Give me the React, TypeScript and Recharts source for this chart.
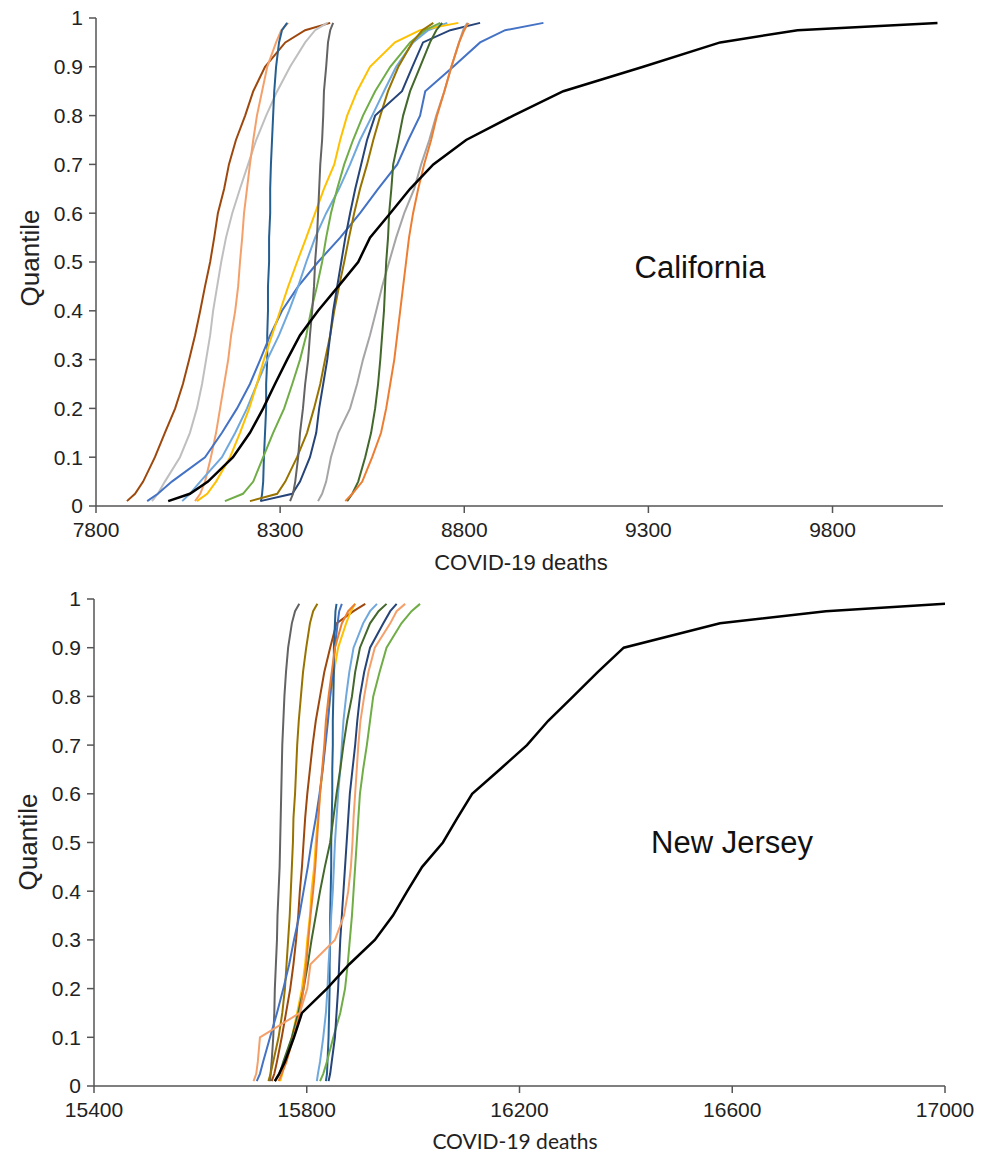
import React from 'react';
import { LineChart, Line, XAxis, YAxis } from 'recharts';

// quantile levels shared by every forecast curve
const QUANTILES = [0.01, 0.025, 0.05, 0.1, 0.15, 0.2, 0.25, 0.3, 0.35, 0.4, 0.45, 0.5,
  0.55, 0.6, 0.65, 0.7, 0.75, 0.8, 0.85, 0.9, 0.95, 0.975, 0.99];

const Y_TICKS = [0, 0.1, 0.2, 0.3, 0.4, 0.5, 0.6, 0.7, 0.8, 0.9, 1];
const CA_X_TICKS = [7800, 8300, 8800, 9300, 9800];
const NJ_X_TICKS = [15400, 15800, 16200, 16600, 17000];

// California - deaths at each quantile level
const CA_BROWN = [7884, 7906, 7928, 7960, 7987, 8015, 8036, 8053, 8069, 8083, 8096, 8110, 8121, 8131, 8148, 8161, 8180, 8205, 8227, 8259, 8314, 8368, 8436];
const CA_LIGHTGRAY = [7952, 7968, 7987, 8028, 8055, 8074, 8088, 8099, 8110, 8118, 8129, 8140, 8153, 8170, 8191, 8213, 8235, 8262, 8292, 8327, 8368, 8395, 8428];
const CA_LIGHTORANGE = [8069, 8083, 8096, 8112, 8126, 8137, 8148, 8159, 8167, 8178, 8186, 8191, 8197, 8202, 8210, 8218, 8227, 8237, 8251, 8265, 8289, 8303, 8322];
const CA_STEELBLUE = [8248, 8251, 8254, 8256, 8259, 8262, 8262, 8265, 8265, 8267, 8267, 8270, 8270, 8273, 8273, 8275, 8278, 8281, 8284, 8289, 8297, 8305, 8319];
const CA_BLUE = [7939, 7968, 8006, 8096, 8142, 8183, 8218, 8246, 8273, 8305, 8349, 8403, 8463, 8517, 8566, 8618, 8648, 8680, 8694, 8770, 8843, 8911, 9015];
const CA_LIGHTBLUE = [8034, 8055, 8083, 8142, 8178, 8210, 8237, 8265, 8297, 8324, 8349, 8371, 8395, 8425, 8460, 8490, 8517, 8550, 8582, 8615, 8661, 8702, 8754];
const CA_GOLD = [8074, 8102, 8126, 8164, 8191, 8216, 8237, 8256, 8278, 8300, 8322, 8346, 8371, 8395, 8419, 8447, 8463, 8482, 8509, 8544, 8612, 8680, 8784];
const CA_GREEN = [8150, 8199, 8227, 8254, 8281, 8311, 8333, 8354, 8371, 8384, 8400, 8414, 8425, 8438, 8455, 8474, 8498, 8525, 8558, 8599, 8653, 8694, 8735];
const CA_OLIVE = [8218, 8292, 8314, 8346, 8373, 8392, 8409, 8422, 8436, 8447, 8460, 8474, 8487, 8501, 8517, 8536, 8553, 8572, 8593, 8621, 8659, 8686, 8716];
const CA_DARKBLUE = [8246, 8333, 8354, 8381, 8398, 8406, 8417, 8428, 8436, 8444, 8455, 8466, 8477, 8490, 8504, 8520, 8536, 8558, 8631, 8659, 8688, 8762, 8843];
const CA_DARKGRAY = [8327, 8335, 8341, 8349, 8354, 8362, 8368, 8376, 8381, 8387, 8392, 8395, 8400, 8403, 8406, 8409, 8414, 8417, 8419, 8425, 8430, 8436, 8444];
const CA_GRAY = [8403, 8414, 8425, 8438, 8458, 8490, 8509, 8525, 8544, 8561, 8577, 8596, 8615, 8637, 8664, 8683, 8705, 8724, 8746, 8765, 8786, 8797, 8808];
const CA_DARKGREEN = [8482, 8496, 8512, 8531, 8547, 8558, 8566, 8572, 8577, 8582, 8585, 8588, 8593, 8596, 8602, 8607, 8621, 8634, 8653, 8680, 8707, 8724, 8740];
const CA_ORANGE = [8477, 8496, 8523, 8550, 8574, 8588, 8599, 8610, 8618, 8626, 8634, 8642, 8650, 8661, 8675, 8691, 8710, 8726, 8746, 8765, 8786, 8800, 8811];
const CA_BLACK = [7996, 8055, 8104, 8172, 8218, 8254, 8286, 8319, 8354, 8403, 8458, 8512, 8544, 8599, 8653, 8716, 8805, 8933, 9069, 9286, 9495, 9705, 10085];

// New Jersey
const NJ_DARKGRAY = [15731, 15732, 15734, 15737, 15739, 15740, 15742, 15744, 15745, 15747, 15749, 15750, 15751, 15752, 15753, 15754, 15756, 15758, 15761, 15765, 15772, 15778, 15786];
const NJ_OLIVE = [15728, 15732, 15737, 15747, 15754, 15759, 15762, 15765, 15768, 15770, 15772, 15774, 15775, 15778, 15780, 15782, 15785, 15789, 15793, 15799, 15806, 15812, 15820];
const NJ_BROWN = [15734, 15739, 15744, 15753, 15761, 15769, 15775, 15780, 15784, 15787, 15791, 15794, 15797, 15801, 15806, 15811, 15817, 15825, 15833, 15844, 15856, 15888, 15910];
const NJ_GOLD = [15750, 15754, 15759, 15772, 15782, 15791, 15797, 15801, 15806, 15809, 15814, 15817, 15821, 15825, 15830, 15834, 15839, 15844, 15851, 15859, 15874, 15883, 15891];
const NJ_BLUE = [15706, 15712, 15718, 15731, 15744, 15756, 15767, 15776, 15786, 15794, 15802, 15809, 15817, 15824, 15830, 15835, 15840, 15844, 15849, 15853, 15858, 15861, 15866];
const NJ_STEELBLUE = [15836, 15838, 15839, 15841, 15842, 15843, 15843, 15844, 15844, 15845, 15846, 15846, 15847, 15848, 15848, 15849, 15849, 15850, 15851, 15851, 15853, 15854, 15856];
const NJ_LIGHTBLUE = [15819, 15821, 15825, 15831, 15836, 15839, 15841, 15844, 15846, 15849, 15851, 15853, 15856, 15859, 15863, 15866, 15869, 15874, 15880, 15888, 15906, 15919, 15932];
const NJ_GREEN = [15825, 15831, 15838, 15850, 15863, 15872, 15877, 15881, 15885, 15888, 15891, 15894, 15897, 15900, 15906, 15913, 15919, 15925, 15937, 15950, 15978, 15997, 16013];
const NJ_DARKBLUE = [15841, 15844, 15847, 15853, 15856, 15859, 15861, 15863, 15866, 15869, 15872, 15875, 15878, 15881, 15886, 15891, 15895, 15900, 15908, 15919, 15944, 15957, 15969];
const NJ_DARKGREEN = [15740, 15749, 15756, 15772, 15784, 15794, 15802, 15809, 15817, 15825, 15834, 15844, 15850, 15856, 15863, 15869, 15876, 15885, 15891, 15900, 15919, 15935, 15950];
const NJ_ORANGE = [15747, 15753, 15762, 15775, 15787, 15794, 15799, 15803, 15807, 15812, 15816, 15819, 15822, 15825, 15829, 15833, 15836, 15841, 15847, 15853, 15866, 15878, 15891];
const NJ_LIGHTORANGE = [15700, 15705, 15708, 15712, 15787, 15801, 15807, 15853, 15870, 15878, 15883, 15886, 15888, 15891, 15894, 15897, 15901, 15908, 15916, 15928, 15957, 15969, 15985];
const NJ_BLACK = [15740, 15748, 15759, 15776, 15791, 15838, 15880, 15928, 15962, 15989, 16017, 16056, 16083, 16111, 16163, 16214, 16254, 16301, 16347, 16396, 16577, 16776, 17000];

type Series = { key: string; color: string; width: number; values: number[] };

const caSeries: Series[] = [
  { key: 'brown', color: '#9E480E', width: 2, values: CA_BROWN },
  { key: 'lightgray', color: '#BFBFBF', width: 2, values: CA_LIGHTGRAY },
  { key: 'lightorange', color: '#F4A06B', width: 2, values: CA_LIGHTORANGE },
  { key: 'steelblue', color: '#255E91', width: 2, values: CA_STEELBLUE },
  { key: 'blue', color: '#4472C4', width: 2, values: CA_BLUE },
  { key: 'lightblue', color: '#6FA8DC', width: 2, values: CA_LIGHTBLUE },
  { key: 'gold', color: '#FFC000', width: 2, values: CA_GOLD },
  { key: 'green', color: '#70AD47', width: 2, values: CA_GREEN },
  { key: 'olive', color: '#997300', width: 2, values: CA_OLIVE },
  { key: 'darkblue', color: '#264478', width: 2, values: CA_DARKBLUE },
  { key: 'darkgray', color: '#636363', width: 2, values: CA_DARKGRAY },
  { key: 'gray', color: '#A5A5A5', width: 2, values: CA_GRAY },
  { key: 'darkgreen', color: '#43682B', width: 2, values: CA_DARKGREEN },
  { key: 'orange', color: '#ED7D31', width: 2, values: CA_ORANGE },
  { key: 'black', color: '#000000', width: 2.5, values: CA_BLACK },
];

const njSeries: Series[] = [
  { key: 'darkgray', color: '#636363', width: 2, values: NJ_DARKGRAY },
  { key: 'olive', color: '#997300', width: 2, values: NJ_OLIVE },
  { key: 'brown', color: '#9E480E', width: 2, values: NJ_BROWN },
  { key: 'gold', color: '#FFC000', width: 2, values: NJ_GOLD },
  { key: 'blue', color: '#4472C4', width: 2, values: NJ_BLUE },
  { key: 'steelblue', color: '#255E91', width: 2, values: NJ_STEELBLUE },
  { key: 'lightblue', color: '#6FA8DC', width: 2, values: NJ_LIGHTBLUE },
  { key: 'green', color: '#70AD47', width: 2, values: NJ_GREEN },
  { key: 'darkblue', color: '#264478', width: 2, values: NJ_DARKBLUE },
  { key: 'darkgreen', color: '#43682B', width: 2, values: NJ_DARKGREEN },
  { key: 'orange', color: '#ED7D31', width: 2, values: NJ_ORANGE },
  { key: 'lightorange', color: '#F4A06B', width: 2, values: NJ_LIGHTORANGE },
  { key: 'black', color: '#000000', width: 2.5, values: NJ_BLACK },
];

const tickStyle = { fontFamily: '"Liberation Sans", Arial, sans-serif', fontSize: 21, fill: '#222' };
const axisStroke = { stroke: '#555', strokeWidth: 1.5 };

interface PanelProps {
  series: Series[];
  xDomain: [number, number];
  xTicks: number[];
  width: number;
  height: number;
  margin: { top: number; right: number; bottom: number; left: number };
  yAxisWidth: number;
  xAxisHeight: number;
}

const Panel: React.FC<PanelProps> = ({ series, xDomain, xTicks, width, height, margin, yAxisWidth, xAxisHeight }) => (
  <LineChart width={width} height={height} margin={margin}>
    <XAxis
      type="number"
      dataKey="x"
      domain={xDomain}
      ticks={xTicks}
      allowDataOverflow
      height={xAxisHeight}
      tick={tickStyle}
      tickSize={7}
      tickMargin={9}
      axisLine={axisStroke}
      tickLine={axisStroke}
    />
    <YAxis
      type="number"
      domain={[0, 1]}
      ticks={Y_TICKS}
      width={yAxisWidth}
      tick={tickStyle}
      tickSize={7}
      tickMargin={6}
      axisLine={axisStroke}
      tickLine={axisStroke}
    />
    {series.map((s) => (
      <Line
        key={s.key}
        data={QUANTILES.map((q, i) => ({ x: s.values[i], q }))}
        dataKey="q"
        type="linear"
        stroke={s.color}
        strokeWidth={s.width}
        dot={false}
        activeDot={false}
        isAnimationActive={false}
      />
    ))}
  </LineChart>
);

const labelFont = '"Liberation Sans", Arial, sans-serif';

export default function App() {
  return (
    <div style={{ position: 'absolute', left: 0, top: 0, width: 992, height: 1154, background: '#fff' }}>
      <div style={{ position: 'absolute', left: 0, top: 0 }}>
        <Panel
          series={caSeries}
          xDomain={[7800, 10100]}
          xTicks={CA_X_TICKS}
          width={992}
          height={580}
          margin={{ top: 18, right: 49, bottom: 0, left: 0 }}
          yAxisWidth={96}
          xAxisHeight={74}
        />
      </div>
      <div style={{ position: 'absolute', left: 0, top: 580 }}>
        <Panel
          series={njSeries}
          xDomain={[15400, 17000]}
          xTicks={NJ_X_TICKS}
          width={992}
          height={574}
          margin={{ top: 19, right: 47, bottom: 0, left: 0 }}
          yAxisWidth={94}
          xAxisHeight={68}
        />
      </div>

      {/* axis titles and panel names */}
      <div style={{ position: 'absolute', left: 30, top: 258, transform: 'translate(-50%, -50%) rotate(-90deg)', fontFamily: labelFont, fontSize: 26, color: '#222', whiteSpace: 'nowrap' }}>Quantile</div>
      <div style={{ position: 'absolute', left: 28, top: 842, transform: 'translate(-50%, -50%) rotate(-90deg)', fontFamily: labelFont, fontSize: 26, color: '#222', whiteSpace: 'nowrap' }}>Quantile</div>
      <div style={{ position: 'absolute', left: 521, top: 563, transform: 'translate(-50%, -50%)', fontFamily: labelFont, fontSize: 22, color: '#222', whiteSpace: 'nowrap' }}>COVID-19 deaths</div>
      <div style={{ position: 'absolute', left: 515, top: 1140, transform: 'translate(-50%, -50%)', fontFamily: 'Lato, sans-serif', fontSize: 21, color: '#222', whiteSpace: 'nowrap' }}>COVID-19 deaths</div>
      <div style={{ position: 'absolute', left: 700, top: 268, transform: 'translate(-50%, -50%)', fontFamily: labelFont, fontSize: 31, color: '#111', whiteSpace: 'nowrap' }}>California</div>
      <div style={{ position: 'absolute', left: 732, top: 843, transform: 'translate(-50%, -50%)', fontFamily: labelFont, fontSize: 31, color: '#111', whiteSpace: 'nowrap' }}>New Jersey</div>
    </div>
  );
}
